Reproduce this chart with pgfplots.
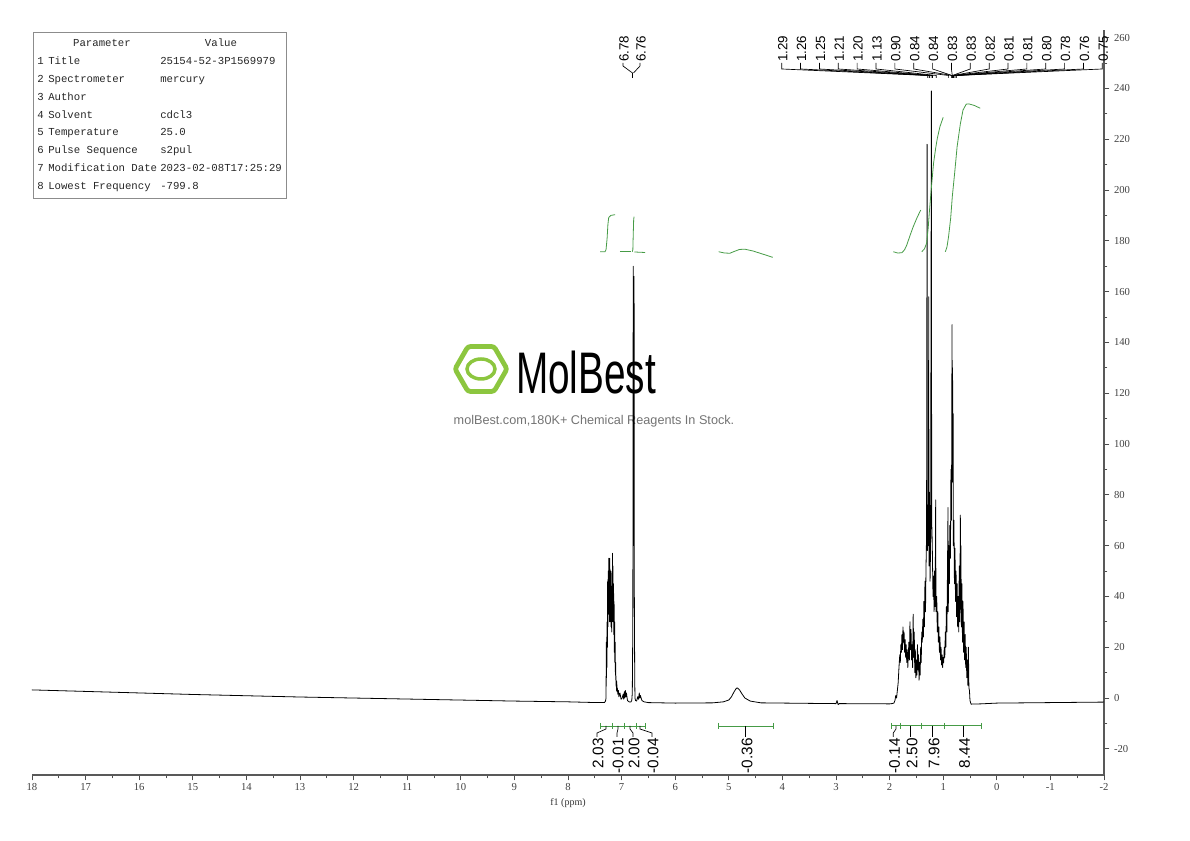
\documentclass[border=0pt]{standalone}
\usepackage{fontspec}
\setmainfont{Liberation Serif}
\newfontfamily\sans{Liberation Sans}
\newfontfamily\mono{Liberation Mono}
\usepackage{pgfplots}
\pgfplotsset{compat=1.18}
\definecolor{intgreen}{RGB}{70,155,70}
\definecolor{logogreen}{RGB}{140,198,63}

\begin{document}
\begin{tikzpicture}
% watermark, table and labels are placed in pixel units of the 1190x841 picture
\begin{scope}[x=0.75pt, y=-0.75pt, shift={(-24pt,581.25pt)}]
  \path[use as bounding box] (0,0) rectangle (1190,841);
  % watermark
  \draw[logogreen, line width=3.6pt, rounded corners=2pt]
    (507,369)--(494,346.5)--(468,346.5)--(455,369)--(468,391.5)--(494,391.5)--cycle;
  \draw[logogreen, line width=2.6pt] (481,369) ellipse [x radius=10.5pt, y radius=7.5pt];
  \node[inner sep=0pt] at (586,373) {\sans\fontsize{44}{44}\selectfont\scalebox{0.66}[1]{MolBest}};
  \node[inner sep=0pt, text=black!55] at (594,421)
    {\sans\fontsize{9.5}{10}\selectfont molBest.com,180K+ Chemical Reagents In Stock.};
  % parameter table
  \draw[black!45, line width=0.7pt] (33,32) rectangle (286,198);
  \begin{scope}[every node/.style={inner sep=0pt, text=black!85, font=\mono\fontsize{8}{9}\selectfont}]
    \node[anchor=base] at (102,46.5) {Parameter};
    \node[anchor=base] at (221,46.5) {Value};
    \foreach \n/\p/\v [count=\i] in {1/Title/25154-52-3P1569979, 2/Spectrometer/mercury,
        3/Author/{}, 4/Solvent/cdcl3, 5/Temperature/25.0, 6/Pulse Sequence/s2pul,
        7/Modification Date/2023-02-08T17:25:29, 8/Lowest Frequency/-799.8}{
      \node[anchor=base west] at (37,46.5+17.9*\i) {\n};
      \node[anchor=base west] at (48,46.5+17.9*\i) {\p};
      \node[anchor=base west] at (160,46.5+17.9*\i) {\v};
    }
  \end{scope}
\end{scope}

\begin{axis}[
  at={(0,0)}, anchor=south west,
  scale only axis, width=804pt, height=558.75pt,
  xmin=-2, xmax=18, x dir=reverse,
  ymin=-30.3, ymax=263,
  axis x line*=bottom, axis y line*=right,
  xtick={-2,-1,...,18}, minor x tick num=1,
  ytick={-20,0,...,260}, minor y tick num=1,
  tick align=outside,
  major tick length=4pt, minor tick length=2.5pt,
  tick style={black!70, line width=0.6pt},
  axis line style={black!65, line width=0.9pt},
  ticklabel style={font=\fontsize{8}{9}\selectfont, text=black!75},
  xticklabel style={yshift=1.5pt},
  /pgf/number format/assume math mode=true,
  xlabel={f1 (ppm)},
  xlabel style={font=\fontsize{7.5}{9}\selectfont, text=black!80, yshift=1pt},
  clip=true,
]
% spectrum
\addplot[black, line width=0.6pt, line join=round] coordinates {
(18,3.2) (17,2.6) (16,2.0) (15,1.4) (14,0.9) (13,0.4) (12,0) (11,-0.4) (10,-0.8)
(9,-1.2) (8,-1.5) (7.45,-1.8) (7.32,-1.8) (7.30,-1.2) (7.29,0)
(7.285,22) (7.282,8) (7.278,24) (7.275,12) (7.27,30) (7.265,20) (7.26,46) (7.255,28)
(7.25,50) (7.245,33) (7.24,55) (7.235,36) (7.23,48) (7.225,30) (7.22,55) (7.215,34)
(7.21,46) (7.205,30) (7.20,50) (7.195,28) (7.19,44) (7.185,26) (7.18,42) (7.175,30)
(7.17,57) (7.165,34) (7.16,52) (7.155,30) (7.15,45) (7.145,25) (7.14,38) (7.135,18)
(7.13,30) (7.125,14) (7.12,22) (7.115,9) (7.11,14) (7.105,5) (7.10,7) (7.095,3)
(7.09,6.5) (7.085,2.5) (7.08,4) (7.07,1.5) (7.06,3) (7.05,0.5) (7.03,2) (7.01,-0.5)
(6.99,0) (6.97,1.5) (6.96,-0.5) (6.95,2.5) (6.94,0) (6.93,3) (6.92,0.5) (6.91,2)
(6.89,-1) (6.86,-1.5) (6.83,-1.6) (6.81,-1) (6.80,2) (6.79,30) (6.783,170) (6.777,80)
(6.772,60) (6.767,166) (6.762,40) (6.755,8) (6.75,0) (6.74,-1) (6.72,-1.2) (6.70,0.5)
(6.685,-0.5) (6.67,2) (6.66,0) (6.65,1) (6.62,-1) (6.58,-1.5) (6.5,-1.8) (6,-2)
(5.3,-1.9) (5.1,-1.5) (5.0,-0.8) (4.95,0.5) (4.9,2.5) (4.86,3.8) (4.84,4.0) (4.8,3.2)
(4.75,1.5) (4.7,0) (4.6,-1.2) (4.4,-1.9) (3.5,-2.1) (3.0,-2.2) (2.98,-1) (2.96,-2.6)
(2.94,-2.2) (2.0,-2.3) (1.96,-2.2) (1.92,-2.0) (1.90,-1.0) (1.885,1.0) (1.87,0)
(1.855,3) (1.84,6) (1.825,12) (1.81,17) (1.80,14) (1.79,21) (1.78,18) (1.77,25)
(1.76,19) (1.75,28) (1.74,22) (1.73,26) (1.72,18) (1.71,23) (1.70,16) (1.69,21)
(1.68,14) (1.67,19) (1.66,12) (1.65,17) (1.64,22) (1.63,15) (1.62,30) (1.61,19)
(1.60,27) (1.59,15) (1.58,21) (1.57,12) (1.56,33) (1.55,16) (1.54,26) (1.53,10)
(1.52,19) (1.51,8) (1.50,15) (1.49,9) (1.48,21) (1.47,11) (1.46,17) (1.45,7)
(1.44,14) (1.43,9) (1.42,20) (1.41,14) (1.40,26) (1.39,22) (1.38,31) (1.37,24)
(1.36,38) (1.35,28) (1.34,46) (1.33,34) (1.32,52) (1.31,64) (1.30,218) (1.295,58)
(1.285,76) (1.275,60) (1.27,158) (1.265,52) (1.255,81) (1.245,46) (1.235,60) (1.22,239)
(1.215,70) (1.205,62) (1.19,40) (1.18,48) (1.17,34) (1.16,50) (1.15,36) (1.14,78)
(1.135,34) (1.12,40) (1.11,26) (1.10,34) (1.09,22) (1.08,28) (1.07,18) (1.06,24)
(1.05,15) (1.04,20) (1.03,13) (1.02,17) (1.01,12) (1.00,16) (0.99,14) (0.98,20)
(0.97,16) (0.96,26) (0.95,20) (0.94,36) (0.93,26) (0.92,50) (0.91,75) (0.905,34)
(0.895,60) (0.885,45) (0.875,68) (0.865,55) (0.855,90) (0.845,70) (0.835,147) (0.83,90)
(0.825,130) (0.82,85) (0.815,112) (0.81,60) (0.80,70) (0.79,45) (0.78,59) (0.77,38)
(0.76,50) (0.75,32) (0.74,45) (0.73,28) (0.72,40) (0.71,26) (0.70,52) (0.69,30)
(0.68,72) (0.675,35) (0.67,60) (0.66,28) (0.65,45) (0.64,22) (0.63,38) (0.62,18)
(0.61,30) (0.60,15) (0.59,25) (0.58,12) (0.57,20) (0.56,8) (0.55,15) (0.54,5)
(0.53,20) (0.52,4) (0.51,3) (0.50,-1) (0.48,-2.4) (0.3,-2.3) (0,-2.0) (-1,-1.8) (-2,-1.6)
};
% integral curves
\addplot[intgreen, line width=0.6pt] coordinates {
(7.40,175.7) (7.31,175.7) (7.29,176.5) (7.27,181) (7.255,186.5) (7.24,189.2) (7.20,190) (7.12,190.3)};
\addplot[intgreen, line width=0.6pt] coordinates {(7.03,175.7) (6.82,175.7)};
\addplot[intgreen, line width=0.6pt] coordinates {
(6.80,175.7) (6.79,176.5) (6.782,183) (6.775,188) (6.768,189.5)};
\addplot[intgreen, line width=0.6pt] coordinates {(6.76,175.6) (6.56,175.4)};
\addplot[intgreen, line width=0.6pt] coordinates {
(5.19,175.7) (5.08,175.2) (4.98,175.1) (4.90,175.8) (4.80,176.6) (4.70,176.7)
(4.55,176.0) (4.40,175.0) (4.18,173.5)};
\addplot[intgreen, line width=0.6pt] coordinates {
(1.93,175.7) (1.85,175.2) (1.77,175.3) (1.72,176.5) (1.68,178.3) (1.62,182)
(1.56,185.5) (1.49,189) (1.42,192.1)};
\addplot[intgreen, line width=0.6pt] coordinates {
(1.40,175.7) (1.35,176.8) (1.31,179) (1.28,185) (1.26,190.8) (1.22,201) (1.18,210.5)
(1.14,216.5) (1.11,220.3) (1.06,225) (1.00,228.6)};
\addplot[intgreen, line width=0.6pt] coordinates {
(0.96,175.7) (0.93,177.5) (0.90,181.6) (0.86,189) (0.83,197.4) (0.78,208) (0.74,217.1)
(0.68,226) (0.63,231.5) (0.57,233.8) (0.52,233.9) (0.42,233.3) (0.31,232.2)};
\end{axis}

\begin{scope}[x=0.75pt, y=-0.75pt, shift={(-24pt,581.25pt)}]
  % peak labels at the top
  \begin{scope}[every node/.style={rotate=90, anchor=west, inner sep=0pt, font=\sans\fontsize{10}{10}\selectfont}]
    \node at (624,62) {6.78};
    \node at (641,62) {6.76};
    \draw[line width=0.5pt] (623,63)--(623,66)--(632.5,73)--(632.5,78);
    \draw[line width=0.5pt] (640,63)--(640,66)--(633.5,73);
    \foreach \lab/\p [count=\i from 0] in {1.29/927.7, 1.26/929.3, 1.25/929.8, 1.21/932.0,
        1.20/932.5, 1.13/936.2, 0.90/948.6, 0.84/951.8, 0.84/951.9, 0.83/952.3, 0.83/952.4,
        0.82/952.8, 0.81/953.4, 0.81/953.5, 0.80/953.9, 0.78/955.0, 0.76/956.1, 0.75/956.6}{
      \pgfmathsetmacro{\xx}{781.7+18.86*\i}
      \node at (\xx+1,62) {\lab};
      \draw[line width=0.5pt] (\xx,63)--(\xx,69)--(\p,75.5)--(\p,78);
    }
  \end{scope}
  % integration brackets at the bottom
  \draw[intgreen, line width=0.6pt] (600,726)--(645,726) (718,726)--(773,726) (891.7,725.7)--(981.7,725.7);
  \foreach \t in {600,612,624,636,645,718,773,891.7,900,921.7,944.3,981.7}
    \draw[intgreen, line width=0.6pt] (\t,723)--(\t,729);
  \draw[line width=0.5pt] (597,737)--(597,733)--(606,729)--(606,726);
  \draw[line width=0.5pt] (617,737)--(617,733)--(618,729)--(618,726);
  \draw[line width=0.5pt] (633,737)--(633,733)--(630,729)--(630,726);
  \draw[line width=0.5pt] (652,737)--(652,733)--(640,729)--(640,726);
  \draw[line width=0.5pt] (745.7,726)--(745.7,737);
  \draw[line width=0.5pt] (893.3,737)--(893.3,733)--(896,729)--(896,726);
  \draw[line width=0.5pt] (910.7,726)--(910.7,737);
  \draw[line width=0.5pt] (932.7,726)--(932.7,737);
  \draw[line width=0.5pt] (963.3,726)--(963.3,737);
  \begin{scope}[every node/.style={rotate=90, anchor=east, inner sep=0pt, font=\sans\fontsize{11.5}{12}\selectfont}]
    \node at (598,738) {2.03};
    \node at (618,738) {-0.01};
    \node at (634,738) {2.00};
    \node at (653,738) {-0.04};
    \node at (747,738) {-0.36};
    \node at (894.5,738) {-0.14};
    \node at (912,738) {2.50};
    \node at (934,738) {7.96};
    \node at (964.5,738) {8.44};
  \end{scope}
\end{scope}
\end{tikzpicture}
\end{document}
